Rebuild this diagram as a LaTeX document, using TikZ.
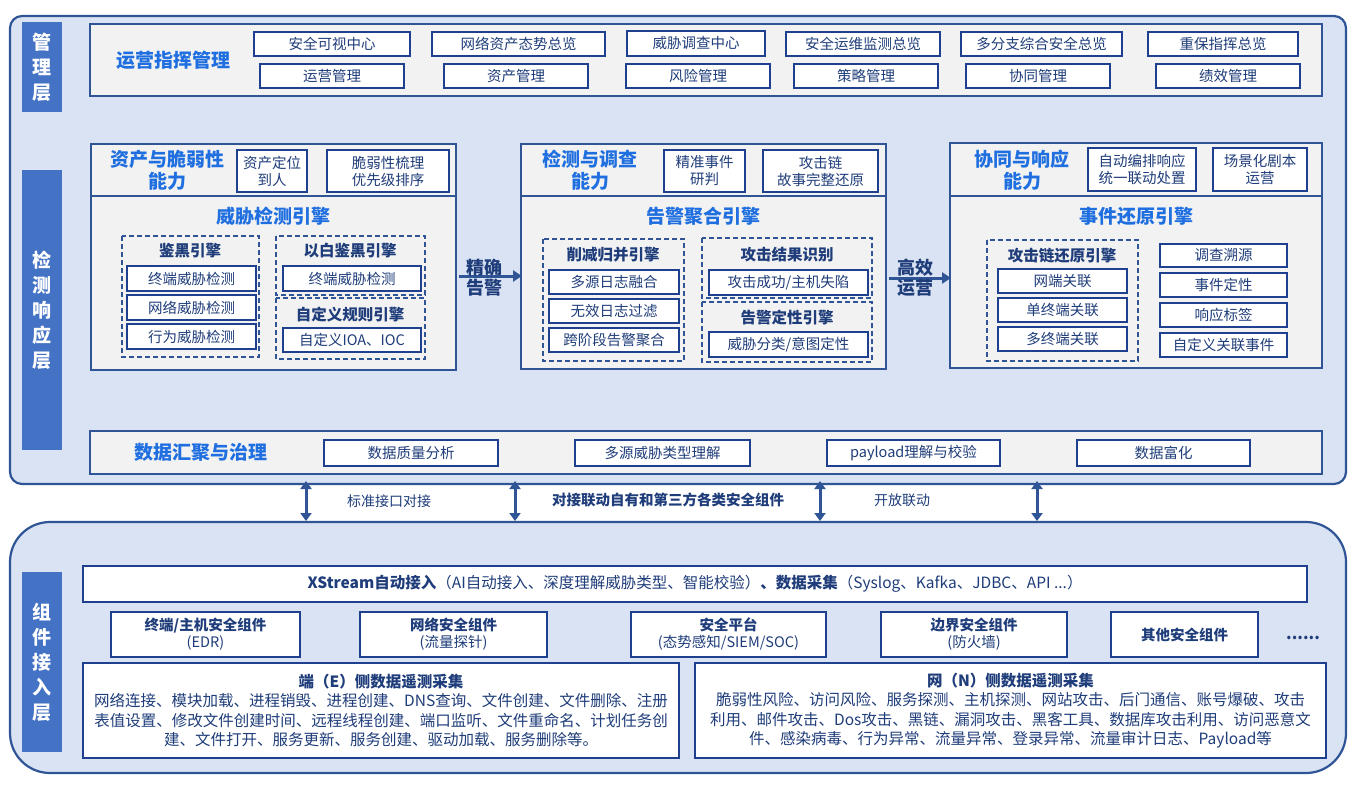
\documentclass[tikz,border=0pt]{standalone}
\usepackage{fontspec}
\setmainfont{Noto Sans CJK SC}
\usetikzlibrary{arrows.meta}
\definecolor{bgb}{HTML}{DAE3F3}
\definecolor{frm}{HTML}{2F5597}
\definecolor{side}{HTML}{4472C4}
\definecolor{ttl}{HTML}{1F6FE0}
\definecolor{nav}{HTML}{1F3F8F}
\definecolor{txt}{HTML}{1F3D7A}
\definecolor{pan}{HTML}{F2F2F2}
\tikzset{
 box/.style={draw=nav,line width=1.6pt,fill=white,inner sep=0pt,text=txt,font=\fontsize{14.5}{17}\selectfont,align=center},
 panel/.style={draw=frm,line width=1.6pt,fill=pan},
 dbox/.style={draw=frm,line width=1.4pt,dashed,dash pattern=on 5pt off 3pt},
 ttlt/.style={text=ttl,font=\fontsize{19}{22}\selectfont\bfseries,align=center},
 subt/.style={text=txt,font=\fontsize{15.5}{18}\selectfont\bfseries,align=center},
 sidel/.style={fill=side,text=white,font=\fontsize{19}{25}\selectfont\bfseries,align=center,inner sep=0pt},
 bigarr/.style={draw=frm,line width=3pt,-{Triangle[width=11pt,length=9pt]}},
 dbl/.style={draw=frm,line width=3pt,{Triangle[width=11pt,length=8pt]}-{Triangle[width=11pt,length=8pt]}},
}
\newcommand\bx[7][]{\node[box,#1,minimum width={(#5-#3)*1pt},minimum height={(#6-#4)*1pt}] (#2) at ({(#3+#5)/2},{(#4+#6)/2}) {#7};}
\newcommand\sd[6]{\node[sidel,minimum width={(#4-#2)*1pt},minimum height={(#5-#3)*1pt}] (#1) at ({(#2+#4)/2},{(#3+#5)/2}) {#6};}
\begin{document}
\begin{tikzpicture}[x=1pt,y=-1pt]
\useasboundingbox (0,0) rectangle (1356,786);
\fill[white] (0,0) rectangle (1356,786);
\draw[frm,line width=2.2pt,fill=bgb,rounded corners=12pt] (10,16) rectangle (1346,484);
\draw[frm,line width=2.2pt,fill=bgb,rounded corners=40pt] (10,522) rectangle (1346,773);
\sd{s1}{22}{22}{62}{112}{管\\理\\层}
\sd{s2}{22}{170}{62}{450}{检\\测\\响\\应\\层}
\sd{s3}{22}{572}{62}{752}{组\\件\\接\\入\\层}
\draw[panel] (90,24) rectangle (1322,96);
\node[ttlt] (t0) at (173,60) {运营指挥管理};
\bx{a1}{254}{32}{410}{56}{安全可视中心}
\bx{a2}{432}{32}{605}{56}{网络资产态势总览}
\bx{a3}{627}{31}{765}{56}{威胁调查中心}
\bx{a4}{786}{32}{940}{56}{安全运维监测总览}
\bx{a5}{961}{32}{1122}{56}{多分支综合安全总览}
\bx{a6}{1148}{32}{1298}{56}{重保指挥总览}
\bx{b1}{260}{64}{404}{88}{运营管理}
\bx{b2}{444}{64}{588}{88}{资产管理}
\bx{b3}{626}{64}{770}{88}{风险管理}
\bx{b4}{794}{64}{938}{88}{策略管理}
\bx{b5}{966}{64}{1110}{88}{协同管理}
\bx{b6}{1156}{64}{1300}{88}{绩效管理}
\draw[panel] (91,144) rectangle (456,196);
\draw[panel] (91,196) rectangle (456,370);
\node[ttlt] (t1) at (167,170) {资产与脆弱性\\能力};
\bx{c1}{237}{150}{307}{192}{资产定位\\到人}
\bx{c2}{327}{150}{449}{192}{脆弱性梳理\\优先级排序}
\node[ttlt] (t2) at (273,216) {威胁检测引擎};
\draw[dbox] (122,236) rectangle (259,357);
\draw[dbox] (276,236) rectangle (425,295);
\draw[dbox] (276,298) rectangle (425,359);
\node[subt] (u1) at (190,251) {鉴黑引擎};
\bx{d1}{127}{266}{256}{291}{终端威胁检测}
\bx{d2}{127}{295}{256}{320}{网络威胁检测}
\bx{d3}{127}{324}{256}{349}{行为威胁检测}
\node[subt] (u2) at (350,251) {以白鉴黑引擎};
\bx{d4}{283}{266}{421}{291}{终端威胁检测}
\node[subt] (u3) at (350,315) {自定义规则引擎};
\bx{d5}{283}{328}{421}{352}{自定义IOA、IOC}
\draw[panel] (521,144) rectangle (886,196);
\draw[panel] (521,196) rectangle (886,369);
\node[ttlt] (t3) at (590,170) {检测与调查\\能力};
\bx{e1}{664}{150}{745}{192}{精准事件\\研判}
\bx{e2}{763}{150}{878}{192}{攻击链\\故事完整还原}
\node[ttlt] (t4) at (703,216) {告警聚合引擎};
\draw[dbox] (543,239) rectangle (684,361);
\draw[dbox] (702,238) rectangle (872,298);
\draw[dbox] (702,302) rectangle (872,362);
\node[subt] (u4) at (613,255) {削减归并引擎};
\bx{f1}{549}{270}{679}{294}{多源日志融合}
\bx{f2}{549}{299}{679}{323}{无效日志过滤}
\bx{f3}{549}{328}{679}{352}{跨阶段告警聚合}
\node[subt] (u5) at (787,255) {攻击结果识别};
\bx{f4}{709}{270}{868}{295}{攻击成功/主机失陷}
\node[subt] (u6) at (787,318) {告警定性引擎};
\bx{f5}{709}{332}{868}{357}{威胁分类/意图定性}
\draw[panel] (950,143) rectangle (1322,196);
\draw[panel] (950,196) rectangle (1322,368);
\node[ttlt] (t5) at (1022,170) {协同与响应\\能力};
\bx{g1}{1088}{148}{1196}{191}{自动编排响应\\统一联动处置}
\bx{g2}{1213}{148}{1307}{191}{场景化剧本\\运营}
\node[ttlt] (t6) at (1136,216) {事件还原引擎};
\draw[dbox] (987,240) rectangle (1138,361);
\node[subt] (u7) at (1062,256) {攻击链还原引擎};
\bx{h1}{998}{269}{1127}{293}{网端关联}
\bx{h2}{998}{298}{1127}{322}{单终端关联}
\bx{h3}{998}{327}{1127}{351}{多终端关联}
\bx{h4}{1160}{244}{1287}{267}{调查溯源}
\bx{h5}{1160}{273}{1287}{297}{事件定性}
\bx{h6}{1160}{303}{1287}{327}{响应标签}
\bx{h7}{1160}{333}{1287}{357}{自定义关联事件}
\coordinate (p1a) at (459,276); \coordinate (p1b) at (522,276);
\draw[bigarr] (p1a) -- (p1b);
\node[text=txt,font=\fontsize{18}{20}\selectfont\bfseries,align=center] (l1) at (484,278) {精确\\告警};
\coordinate (p2a) at (889,278); \coordinate (p2b) at (951,278);
\draw[bigarr] (p2a) -- (p2b);
\node[text=txt,font=\fontsize{18}{20}\selectfont\bfseries,align=center] (l2) at (915,278) {高效\\运营};
\draw[panel] (90,431) rectangle (1322,474);
\node[ttlt] (t7) at (201,452) {数据汇聚与治理};
\bx{k1}{324}{440}{498}{466}{数据质量分析}
\bx{k2}{575}{440}{750}{466}{多源威胁类型理解}
\bx{k3}{827}{440}{1000}{466}{payload理解与校验}
\bx{k4}{1077}{440}{1250}{466}{数据富化}
\foreach \i/\x in {1/306,2/515,3/820,4/1037}{
 \coordinate (q\i a) at (\x,481); \coordinate (q\i b) at (\x,521);
 \draw[dbl] (q\i a) -- (q\i b);}
\node[text=txt,font=\fontsize{14}{16}\selectfont] (m1) at (389,501) {标准接口对接};
\node[text=txt,font=\fontsize{14.5}{16}\selectfont\bfseries] (m2) at (668,500) {对接联动自有和第三方各类安全组件};
\node[text=txt,font=\fontsize{14}{16}\selectfont] (m3) at (902,500) {开放联动};
\bx[font=\fontsize{15.5}{18}\selectfont]{x0}{83}{566}{1307}{602}{\textbf{XStream自动接入}（AI自动接入、深度理解威胁类型、智能校验）\textbf{、数据采集}（Syslog、Kafka、JDBC、API ...）}
\bx{y1}{111}{612}{300}{657}{\textbf{终端/主机安全组件}\\(EDR)}
\bx{y2}{360}{612}{547}{657}{\textbf{网络安全组件}\\(流量探针)}
\bx{y3}{631}{612}{826}{657}{\textbf{安全平台}\\(态势感知/SIEM/SOC)}
\bx{y4}{881}{612}{1067}{657}{\textbf{边界安全组件}\\(防火墙)}
\bx{y5}{1111}{612}{1258}{657}{\textbf{其他安全组件}}
\node[text=txt,font=\fontsize{16}{16}\selectfont\bfseries] (dots) at (1303,638) {......};
\bx[font=\fontsize{15.5}{19.5}\selectfont]{z1}{83}{663}{679}{758}{\textbf{端（E）侧数据遥测采集}\\网络连接、模块加载、进程销毁、进程创建、DNS查询、文件创建、文件删除、注册\\表值设置、修改文件创建时间、远程线程创建、端口监听、文件重命名、计划任务创\\建、文件打开、服务更新、服务创建、驱动加载、服务删除等。}
\bx[font=\fontsize{15.5}{19.5}\selectfont]{z2}{695}{663}{1326}{758}{\textbf{网（N）侧数据遥测采集}\\脆弱性风险、访问风险、服务探测、主机探测、网站攻击、后门通信、账号爆破、攻击\\利用、邮件攻击、Dos攻击、黑链、漏洞攻击、黑客工具、数据库攻击利用、访问恶意文\\件、感染病毒、行为异常、流量异常、登录异常、流量审计日志、Payload等}
\end{tikzpicture}
\end{document}
